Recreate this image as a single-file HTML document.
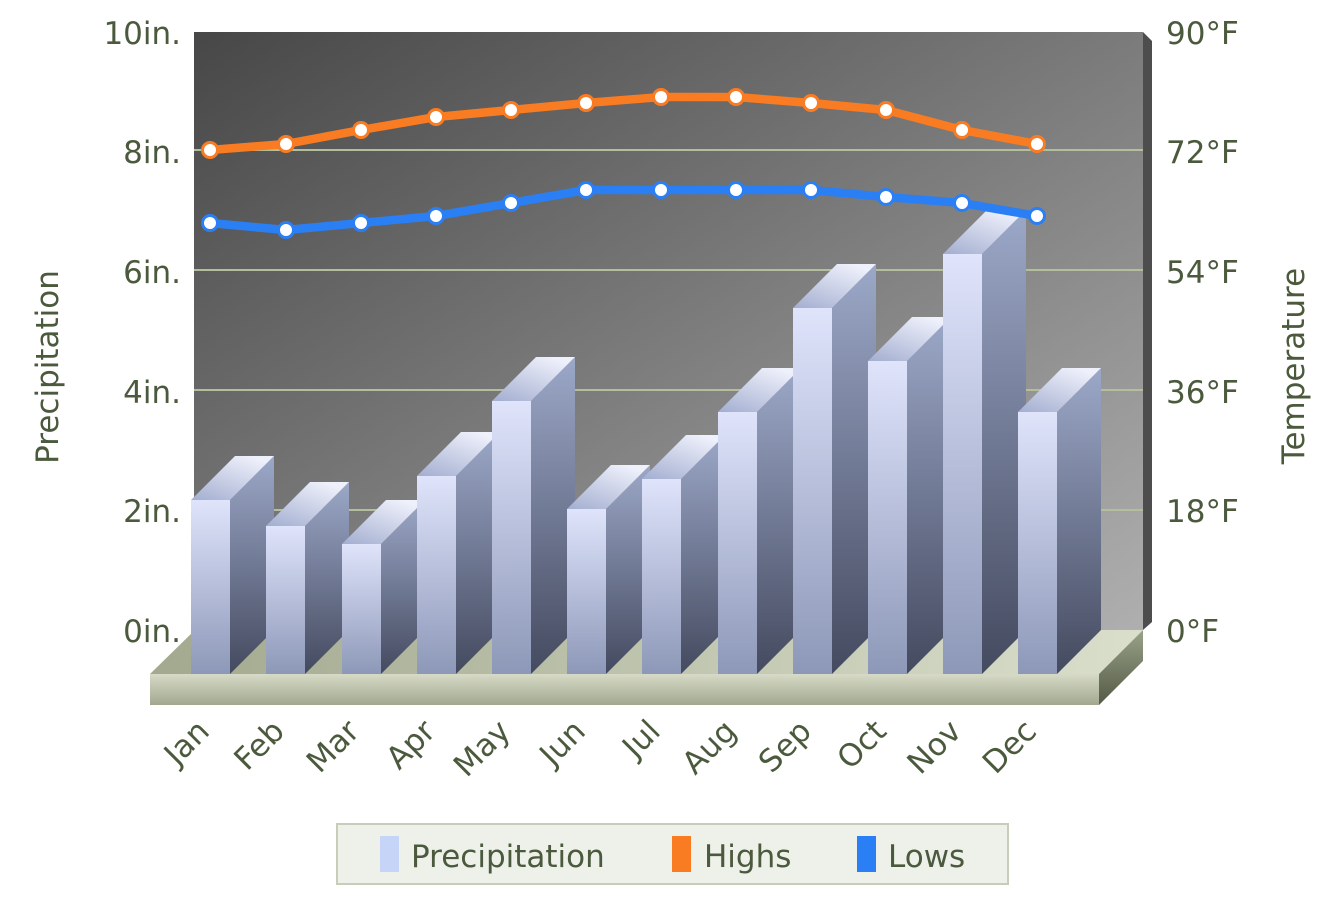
<!DOCTYPE html>
<html><head><meta charset="utf-8"><style>
html,body{margin:0;padding:0;background:#fff;}
svg{display:block;}
text{font-family:"DejaVu Sans","Liberation Sans",sans-serif;fill:#4b5a3d;}
</style></head><body>
<svg width="1344" height="920" viewBox="0 0 1344 920" xmlns="http://www.w3.org/2000/svg">
<defs>
<linearGradient id="wall" x1="0" y1="0" x2="1" y2="1"><stop offset="0" stop-color="#474747"/><stop offset="1" stop-color="#afafaf"/></linearGradient>
<linearGradient id="ftop" x1="0" y1="0" x2="1" y2="0"><stop offset="0" stop-color="#a2a98e"/><stop offset="1" stop-color="#dadfcc"/></linearGradient>
<linearGradient id="ffront" x1="0" y1="0" x2="0" y2="1"><stop offset="0" stop-color="#d6dac6"/><stop offset="1" stop-color="#a2a890"/></linearGradient>
<linearGradient id="fside" x1="0" y1="0" x2="0" y2="1"><stop offset="0" stop-color="#9aa288"/><stop offset="1" stop-color="#545a46"/></linearGradient>
<linearGradient id="bfront" x1="0" y1="0" x2="0" y2="1"><stop offset="0" stop-color="#dfe4fb"/><stop offset="1" stop-color="#8d98b8"/></linearGradient>
<linearGradient id="bside" x1="0" y1="0" x2="0" y2="1"><stop offset="0" stop-color="#9ca8c8"/><stop offset="1" stop-color="#444a5f"/></linearGradient>
<linearGradient id="btop" x1="0" y1="1" x2="0.7" y2="0"><stop offset="0" stop-color="#a3aed0"/><stop offset="1" stop-color="#eef0fb"/></linearGradient>
</defs>

<!-- back wall -->
<rect x="194" y="32" width="949" height="598" fill="url(#wall)"/>
<polygon points="1143,32 1152,41 1152,622 1143,630" fill="#4d4d4d"/>
<!-- gridlines -->
<g stroke="#b3bf9c" stroke-width="2">
<line x1="194" y1="150" x2="1143" y2="150"/>
<line x1="194" y1="270" x2="1143" y2="270"/>
<line x1="194" y1="390" x2="1143" y2="390"/>
<line x1="194" y1="510" x2="1143" y2="510"/>
</g>
<!-- floor -->
<polygon points="195,630 1143,630 1099,674 150,674" fill="url(#ftop)"/>
<rect x="150" y="674" width="949" height="31" fill="url(#ffront)"/>
<polygon points="1099,674 1143,630 1143,661 1099,705" fill="url(#fside)"/>

<!-- bars -->
<g id="bars">
<polygon points="230,500 274,456 274,630 230,674" fill="url(#bside)"/><polygon points="191,500 235,456 274,456 230,500" fill="url(#btop)"/><rect x="191" y="500" width="39" height="174" fill="url(#bfront)"/>
<polygon points="305,526 349,482 349,630 305,674" fill="url(#bside)"/><polygon points="266,526 310,482 349,482 305,526" fill="url(#btop)"/><rect x="266" y="526" width="39" height="148" fill="url(#bfront)"/>
<polygon points="381,544 425,500 425,630 381,674" fill="url(#bside)"/><polygon points="342,544 386,500 425,500 381,544" fill="url(#btop)"/><rect x="342" y="544" width="39" height="130" fill="url(#bfront)"/>
<polygon points="456,476 500,432 500,630 456,674" fill="url(#bside)"/><polygon points="417,476 461,432 500,432 456,476" fill="url(#btop)"/><rect x="417" y="476" width="39" height="198" fill="url(#bfront)"/>
<polygon points="531,401 575,357 575,630 531,674" fill="url(#bside)"/><polygon points="492,401 536,357 575,357 531,401" fill="url(#btop)"/><rect x="492" y="401" width="39" height="273" fill="url(#bfront)"/>
<polygon points="606,509 650,465 650,630 606,674" fill="url(#bside)"/><polygon points="567,509 611,465 650,465 606,509" fill="url(#btop)"/><rect x="567" y="509" width="39" height="165" fill="url(#bfront)"/>
<polygon points="681,479 725,435 725,630 681,674" fill="url(#bside)"/><polygon points="642,479 686,435 725,435 681,479" fill="url(#btop)"/><rect x="642" y="479" width="39" height="195" fill="url(#bfront)"/>
<polygon points="757,412 801,368 801,630 757,674" fill="url(#bside)"/><polygon points="718,412 762,368 801,368 757,412" fill="url(#btop)"/><rect x="718" y="412" width="39" height="262" fill="url(#bfront)"/>
<polygon points="832,308 876,264 876,630 832,674" fill="url(#bside)"/><polygon points="793,308 837,264 876,264 832,308" fill="url(#btop)"/><rect x="793" y="308" width="39" height="366" fill="url(#bfront)"/>
<polygon points="907,361 951,317 951,630 907,674" fill="url(#bside)"/><polygon points="868,361 912,317 951,317 907,361" fill="url(#btop)"/><rect x="868" y="361" width="39" height="313" fill="url(#bfront)"/>
<polygon points="982,254 1026,210 1026,630 982,674" fill="url(#bside)"/><polygon points="943,254 987,210 1026,210 982,254" fill="url(#btop)"/><rect x="943" y="254" width="39" height="420" fill="url(#bfront)"/>
<polygon points="1057,412 1101,368 1101,630 1057,674" fill="url(#bside)"/><polygon points="1018,412 1062,368 1101,368 1057,412" fill="url(#btop)"/><rect x="1018" y="412" width="39" height="262" fill="url(#bfront)"/>
</g>

<!-- Highs -->
<polyline points="210,150 286,144 361,130 436,117 511,110 586,103 661,97 736,97 811,103 886,110 962,130 1037,144" fill="none" stroke="#f97b22" stroke-width="8.5" stroke-linejoin="round"/>
<g fill="#fff" stroke="#f97b22" stroke-width="3">
<circle cx="210" cy="150" r="7.5"/><circle cx="286" cy="144" r="7.5"/><circle cx="361" cy="130" r="7.5"/><circle cx="436" cy="117" r="7.5"/><circle cx="511" cy="110" r="7.5"/><circle cx="586" cy="103" r="7.5"/><circle cx="661" cy="97" r="7.5"/><circle cx="736" cy="97" r="7.5"/><circle cx="811" cy="103" r="7.5"/><circle cx="886" cy="110" r="7.5"/><circle cx="962" cy="130" r="7.5"/><circle cx="1037" cy="144" r="7.5"/>
</g>
<!-- Lows -->
<polyline points="210,223 286,230 361,223 436,216 511,203 586,190 661,190 736,190 811,190 886,197 962,203 1037,216" fill="none" stroke="#2b7ff4" stroke-width="8.5" stroke-linejoin="round"/>
<g fill="#fff" stroke="#2b7ff4" stroke-width="3">
<circle cx="210" cy="223" r="7.5"/><circle cx="286" cy="230" r="7.5"/><circle cx="361" cy="223" r="7.5"/><circle cx="436" cy="216" r="7.5"/><circle cx="511" cy="203" r="7.5"/><circle cx="586" cy="190" r="7.5"/><circle cx="661" cy="190" r="7.5"/><circle cx="736" cy="190" r="7.5"/><circle cx="811" cy="190" r="7.5"/><circle cx="886" cy="197" r="7.5"/><circle cx="962" cy="203" r="7.5"/><circle cx="1037" cy="216" r="7.5"/>
</g>

<!-- left axis labels -->
<g font-size="31" text-anchor="end">
<text x="181" y="44">10in.</text>
<text x="181" y="163">8in.</text>
<text x="181" y="283">6in.</text>
<text x="181" y="403">4in.</text>
<text x="181" y="522">2in.</text>
<text x="181" y="642">0in.</text>
</g>
<!-- right axis labels -->
<g font-size="31">
<text x="1166" y="44">90°F</text>
<text x="1166" y="163">72°F</text>
<text x="1166" y="283">54°F</text>
<text x="1166" y="403">36°F</text>
<text x="1166" y="522">18°F</text>
<text x="1166" y="642">0°F</text>
</g>
<!-- axis titles -->
<text font-size="31" text-anchor="middle" transform="translate(58,367) rotate(-90)">Precipitation</text>
<text font-size="31" text-anchor="middle" transform="translate(1304,366) rotate(-90)">Temperature</text>

<!-- x labels -->
<g font-size="31" text-anchor="end">
<text transform="translate(211,733) rotate(-45)">Jan</text>
<text transform="translate(286,733) rotate(-45)">Feb</text>
<text transform="translate(361,733) rotate(-45)">Mar</text>
<text transform="translate(437,733) rotate(-45)">Apr</text>
<text transform="translate(512,733) rotate(-45)">May</text>
<text transform="translate(587,733) rotate(-45)">Jun</text>
<text transform="translate(662,733) rotate(-45)">Jul</text>
<text transform="translate(738,733) rotate(-45)">Aug</text>
<text transform="translate(813,733) rotate(-45)">Sep</text>
<text transform="translate(888,733) rotate(-45)">Oct</text>
<text transform="translate(963,733) rotate(-45)">Nov</text>
<text transform="translate(1038,733) rotate(-45)">Dec</text>
</g>

<!-- legend -->
<rect x="337" y="824" width="671" height="60" fill="#eef1ea" stroke="#c6cdb9" stroke-width="2"/>
<rect x="380" y="836" width="19" height="36" fill="#c6d4f8"/>
<text x="411" y="867" font-size="31">Precipitation</text>
<rect x="672" y="836" width="19" height="36" fill="#f97b22"/>
<text x="704" y="867" font-size="31">Highs</text>
<rect x="857" y="836" width="19" height="36" fill="#2b7ff4"/>
<text x="888" y="867" font-size="31">Lows</text>
</svg>
</body></html>
